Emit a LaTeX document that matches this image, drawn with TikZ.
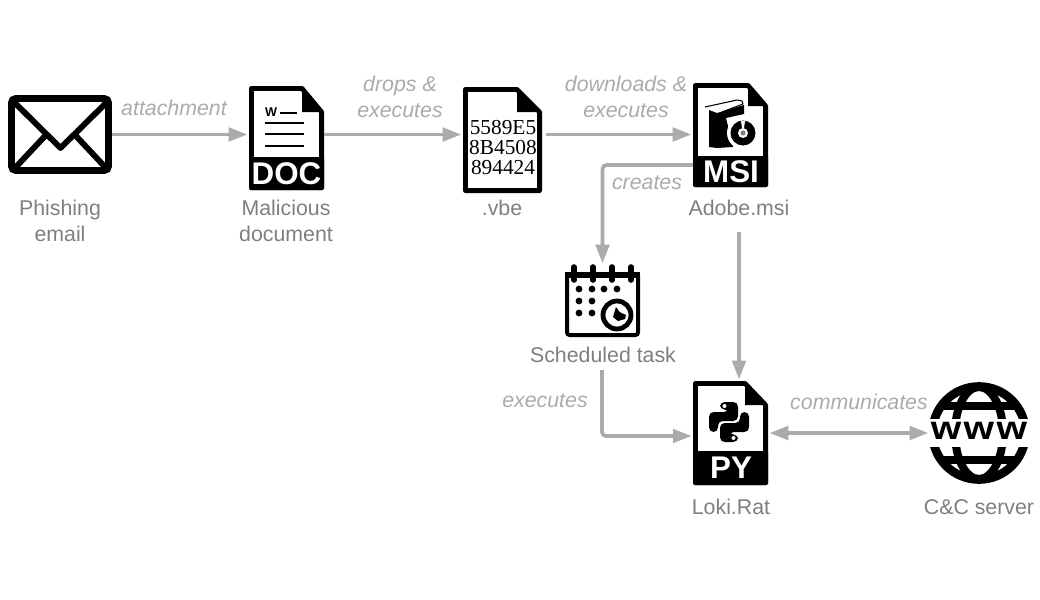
\documentclass[tikz,border=0pt]{standalone}
\usepackage{fontspec}
\setmainfont{Liberation Sans}
\newfontfamily\hexfont{Liberation Serif}
\usetikzlibrary{arrows.meta,fit}

\definecolor{flowgray}{HTML}{ABABAB}
\definecolor{labelgray}{HTML}{7F7F7F}

\tikzset{
  iconbox/.style={inner sep=0pt,fit={#1}},
  flowarrow/.style={draw=flowgray,line width=2.8pt,rounded corners=3pt,shorten >=1pt,-{Triangle[length=14pt,width=10pt]}},
  bothflow/.style={flowarrow,shorten <=1pt,{Triangle[length=14pt,width=10pt]}-{Triangle[length=14pt,width=10pt]}},
  nodelabel/.style={text=labelgray,align=center,inner sep=0pt,font=\fontsize{16}{19.5}\selectfont},
  edgelabel/.style={text=flowgray,align=center,inner sep=0pt,font=\fontsize{16}{19.5}\selectfont\itshape},
  bandtext/.style={text=white,inner sep=0pt,font=\fontsize{23.5}{24}\selectfont\bfseries},
}

% file outline: left, top, right, bottom, fold x, fold y
\newcommand{\fileshape}[6]{
  \draw [line width=3.6pt,line join=round,fill=white] ({#1+2.4},{#2+2.4}) -- ({#5},{#2+2.4}) -- ({#3-2.4},{#6}) -- ({#3-2.4},{#4-2.4}) -- ({#1+2.4},{#4-2.4}) -- cycle ;
  \fill [line join=round] ({#5},{#2+2}) -- ({#3-2},{#6}) -- ({#5},{#6}) -- cycle ;
}

\begin{document}
\begin{tikzpicture}[x=0.75pt,y=0.75pt,yscale=-1,xscale=1]
\useasboundingbox (0,0) rectangle (1040,600);

%Shape: Envelope
\node [iconbox={(8,95)(112,174)}] (mailicon) {};
\draw [line width=5pt,rounded corners=3pt] (11.5,98.5) rectangle (108.5,170.5) ;
\draw [line width=4.4pt,line join=round] (14,102) -- (60.5,148) -- (107,102) ;
\draw [line width=4.4pt] (15,168) -- (45,136) ;
\draw [line width=4.4pt] (76,136) -- (106,168) ;

%Shape: Doc file
\node [iconbox={(249,86)(324,190)}] (docicon) {};
\fileshape{249}{86}{324}{190}{302}{112}
\fill [rounded corners=1pt] (249,157) rectangle (324,190) ;
\draw (271,112) node [inner sep=0pt,font=\fontsize{9.5}{10}\selectfont\bfseries] (docmark) {W} ;
\draw [line width=1.6pt] (280,113) -- (297,113) ;
\foreach \liney in {123,134,146} {
  \draw [line width=1.6pt] (265,\liney) -- (304,\liney) ;
}
\draw (286.5,174) node [bandtext] (doctext) {DOC} ;

%Shape: Vbe file
\node [iconbox={(463,87)(542,193)}] (vbeicon) {};
\fileshape{463}{87}{542}{193}{517}{112}
\draw (503,148) node [inner sep=0pt,align=center,font=\fontsize{16}{15}\hexfont] (vbetext) {5589E5\\8B4508\\894424} ;

%Shape: Msi file
\node [iconbox={(693,83)(768,187)}] (msiicon) {};
\fileshape{693}{83}{768}{187}{748}{106}
\fill [rounded corners=1pt] (693,156) rectangle (768,187) ;
\draw (731,171.5) node [bandtext] (msitext) {MSI} ;
\draw [line width=0.8pt,line join=round] (705,107) -- (737,100) -- (742,101) -- (743,104) -- (722,112) ;
\fill (709,110) -- (717,113) -- (744,105) -- (744,114) -- (726,118) -- (733,147) -- (717,148) -- (709,147) -- cycle ;
\fill [white] (743,133) circle [radius=16] ;
\fill (743,133) circle [radius=12.5] ;
\fill [white] (743,133) circle [radius=5] ;
\fill [gray] (743,133) circle [radius=2.5] ;
\fill [white] (741,121) -- (745,121) -- (744,128) -- (742,128) -- cycle ;

%Shape: Calendar
\node [iconbox={(565,265)(640,337)}] (calicon) {};
\draw [line width=3pt,rounded corners=2pt,fill=white] (567,274) rectangle (638,335) ;
\fill (565,272) rectangle (640,278) ;
\foreach \ringx in {574,593,612,631} {
  \draw [line width=4.2pt,line cap=round] (\ringx,267) -- (\ringx,280) ;
}
\foreach \dotx/\doty in {579/289,592/289,604/289,617/289,579/301,592/301,579/313,592/313} {
  \fill (\dotx,\doty) circle [radius=3.4] ;
}
\draw [line width=3.6pt,fill=white] (617,315) circle [radius=14] ;
\fill (616,307) -- (619.5,312) -- (626,315) -- (625,319) -- (618,321) -- (613,317) -- cycle ;

%Shape: Py file
\node [iconbox={(693,381)(768,485)}] (pyicon) {};
\fileshape{693}{381}{768}{485}{745}{405}
\fill [rounded corners=1pt] (693,451) rectangle (768,485) ;
\draw (731,468) node [bandtext] (pytext) {PY} ;
\foreach \snakeangle in {0,180} {
  \begin{scope}[shift={(729,422)},rotate=\snakeangle]
    \fill [rounded corners=3.5pt] (-9,-20) -- (9,-20) -- (9,-1) -- (-11,-1) -- (-11,10) -- (-20,10) -- (-20,-10) -- (0,-10) -- (0,-12.5) -- (-9,-12.5) -- cycle ;
    \fill [white] (-4.5,-16) circle [radius=2] ;
  \end{scope}
}

%Shape: Globe
\node [iconbox={(930,383)(1028,483)}] (wwwicon) {};
\begin{scope}
  \clip (979,433) circle [radius=50] ;
  \draw [line width=6pt] (979,433) circle [x radius=24,y radius=46] ;
  \draw [line width=6pt] (930,406) -- (1028,406) ;
  \draw [line width=6pt] (930,460) -- (1028,460) ;
\end{scope}
\draw [line width=6.5pt] (979,433) circle [radius=46.5] ;
\fill [white] (925,419) rectangle (1035,447) ;
\draw (979,431) node [inner sep=0pt,font=\fontsize{24.5}{25}\selectfont\bfseries\addfontfeature{LetterSpace=6}] (wwwtext) {\scalebox{1.2}[1]{www}} ;

% Text Node
\draw (60,221) node [nodelabel] (maillabel) {Phishing\\email};
% Text Node
\draw (286,221) node [nodelabel] (doclabel) {Malicious\\document};
% Text Node
\draw (502,208) node [nodelabel] (vbelabel) {.vbe};
% Text Node
\draw (739,208) node [nodelabel] (msilabel) {Adobe.msi};
% Text Node
\draw (603,355) node [nodelabel] (callabel) {Scheduled task};
% Text Node
\draw (731,507) node [nodelabel] (pylabel) {Loki.Rat};
% Text Node
\draw (979,507) node [nodelabel] (wwwlabel) {C\&C server};
% Text Node
\draw (174,108) node [edgelabel] (mailedge) {attachment};
% Text Node
\draw (400,97) node [edgelabel] (docedge) {drops \&\\executes};
% Text Node
\draw (626,97) node [edgelabel] (vbeedge) {downloads \&\\executes};
% Text Node
\draw (647,183) node [edgelabel] (msiedge) {creates};
% Text Node
\draw (545,401) node [edgelabel] (caledge) {executes};
% Text Node
\draw (859,402) node [edgelabel] (pyedge) {communicates};

\coordinate (msiexit) at (693,165);
\coordinate (msidown) at (739,232);
\coordinate (calexit) at (602,370);
\coordinate (pyentry) at (693,436);

%Straight Lines
\draw [flowarrow] (mailicon.east) -- (mailicon.east -| docicon.west) ;
\draw [flowarrow] (docicon.east |- mailicon.east) -- (vbeicon.west |- mailicon.east) ;
\draw [flowarrow,shorten <=3pt] (vbeicon.east |- mailicon.east) -- (msiicon.west |- mailicon.east) ;
\draw [flowarrow] (msiexit) -| (calicon.north) ;
\draw [flowarrow] (msidown) -- (msidown |- pyicon.north) ;
\draw [flowarrow] (calexit) |- (pyentry) ;
\draw [bothflow] (pyicon.east) -- (wwwicon.west) ;

\end{tikzpicture}
\end{document}
